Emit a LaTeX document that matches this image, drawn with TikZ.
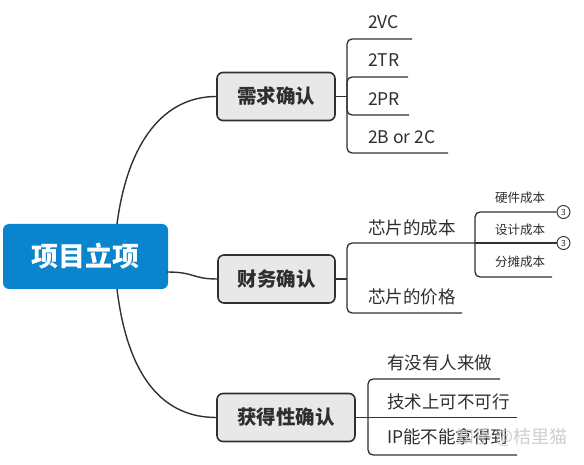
\documentclass[tikz,border=0pt]{standalone}
\usepackage{fontspec}
\setmainfont{Noto Sans CJK SC}
\usetikzlibrary{calc}
\definecolor{rootblue}{HTML}{0A84CC}
\definecolor{linec}{HTML}{303030}
\definecolor{boxfill}{HTML}{E8E8E8}
\definecolor{txt}{HTML}{2E2E2E}
\begin{document}
\begin{tikzpicture}[x=1pt,y=-1pt,
  rootbox/.style={fill=rootblue, rounded corners=6pt, text=white, font=\fontsize{27}{30}\selectfont\bfseries, inner sep=0pt},
  topicbox/.style={fill=boxfill, draw=linec, line width=1.6pt, rounded corners=6pt, text=txt, font=\fontsize{19.5}{22}\selectfont\bfseries, inner sep=0pt, minimum height=48pt},
  item/.style={anchor=west, inner sep=0pt, text=txt, font=\fontsize{17.5}{20}\selectfont},
  smallitem/.style={anchor=west, inner sep=0pt, text=txt, font=\fontsize{12.5}{14}\selectfont},
  conn/.style={draw=linec, line width=1.4pt},
  brk/.style={draw=linec, line width=1.3pt, rounded corners=5pt},
  badge/.style={circle, draw=linec, line width=0.9pt, fill=white, minimum size=13pt, inner sep=0pt, font=\fontsize{8.5}{9}\selectfont, text=txt}
]
\useasboundingbox (0,0) rectangle (584,465);

% root
\node[rootbox, minimum width=165pt, minimum height=65pt] (root) at (85.5,256.5) {项目立项};

% topic boxes
\node[topicbox, minimum width=118pt] (b1) at (276,96.5) {需求确认};
\node[topicbox, minimum width=117pt] (b2) at (276.5,279) {财务确认};
\node[topicbox, minimum width=138pt] (b3) at (286,417.5) {获得性确认};

% main curves
\coordinate (rt) at (117,224);
\coordinate (rr) at (167,272);
\coordinate (rb) at (117,289);
\draw[conn] (rt) .. controls (128,140) and (165,96.5) .. (b1.west);
\draw[conn] (rr) .. controls (195,272) and (192,279) .. (b2.west);
\draw[conn] (rb) .. controls (128,380) and (165,417.5) .. (b3.west);

% ---- group 1
\coordinate (s1) at (347,96.5);
\draw[conn, line width=1.3pt] (b1.east) -- (s1);
\coordinate (e11) at (412,39);
\coordinate (e12) at (408,77);
\coordinate (e13) at (409,115);
\coordinate (e14) at (448,153);
\draw[brk] (s1) |- (e11);
\draw[brk] (s1) |- (e12);
\draw[brk] (s1) |- (e13);
\draw[brk] (s1) |- (e14);
\node[item] (t11) at (368,22) {2VC};
\node[item] (t12) at (368,60) {2TR};
\node[item] (t13) at (368,99) {2PR};
\node[item] (t14) at (368,137) {2B or 2C};

% ---- group 2
\coordinate (s2) at (347,279);
\draw[conn, line width=1.3pt] (b2.east) -- (s2);
\coordinate (s3) at (475,243);
\coordinate (e22) at (462,313);
\draw[brk] (s2) |- (s3);
\draw[brk] (s2) |- (e22);
\node[item] (t21) at (368,228) {芯片的成本};
\node[item] (t22) at (368,297) {芯片的价格};

% sub group
\node[badge] (c1) at (563.5,212) {3};
\node[badge] (c2) at (563.5,243) {3};
\coordinate (e33) at (552,277);
\draw[brk] (s3) |- (c1.west);
\draw[brk] (s3) -- (c2.west);
\draw[brk] (s3) |- (e33);
\node[smallitem] (t31) at (495,198) {硬件成本};
\node[smallitem] (t32) at (495,230) {设计成本};
\node[smallitem] (t33) at (495,262) {分摊成本};

% ---- group 3
\coordinate (s4) at (368,417.5);
\draw[conn, line width=1.3pt] (b3.east) -- (s4);
\coordinate (e41) at (500,379);
\coordinate (e42) at (517,417.5);
\coordinate (e43) at (517,455);
\draw[brk] (s4) |- (e41);
\draw[brk] (s4) -- (e42);
\draw[brk] (s4) |- (e43);
\node[item] (t41) at (387,363) {有没有人来做};
\node[item] (t42) at (387,402) {技术上可不可行};
\node[item] (t43) at (387,437) {IP能不能拿得到};

% watermark
\node[anchor=east, inner sep=0pt, text=gray!45, opacity=0.85, font=\fontsize{18}{20}\selectfont] (wm) at (568,437) {知乎 @桔里猫};
\end{tikzpicture}
\end{document}
